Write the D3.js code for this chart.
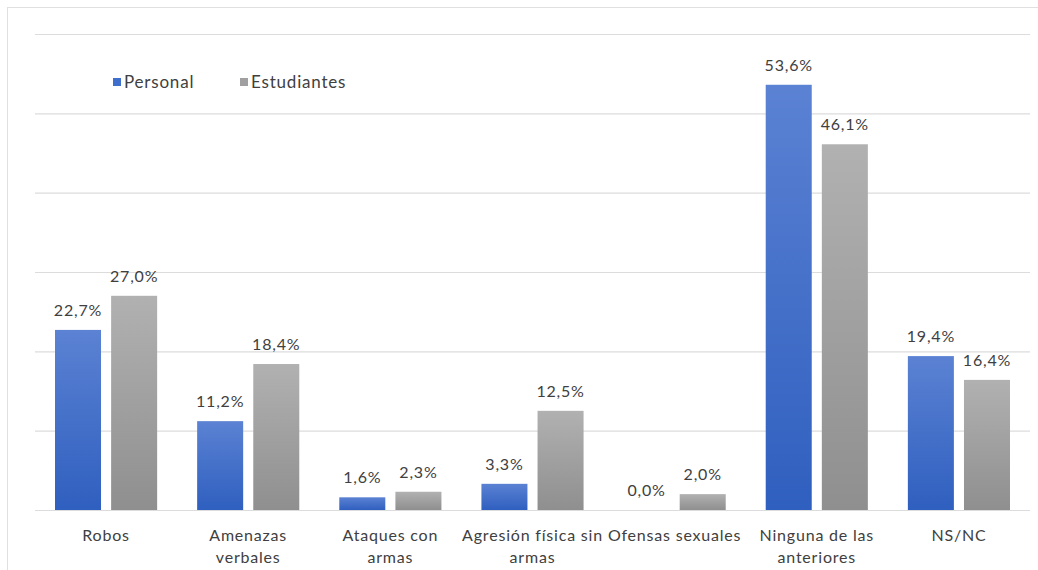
<!DOCTYPE html>
<html>
<head>
<meta charset="utf-8">
<script src="https://cdn.jsdelivr.net/npm/d3@7"></script>
<style>
  body { margin: 0; background: #fff; }
  text { font-family: Lato, "Open Sans", sans-serif; fill: #404040; letter-spacing: 0.8px; }
</style>
</head>
<body>
<div id="vis"></div>
<script>
// data
const categories = ["Robos", "Amenazas verbales", "Ataques con armas", "Agresión física sin armas",
                    "Ofensas sexuales", "Ninguna de las anteriores", "NS/NC"]
const labelLines = [["Robos"], ["Amenazas", "verbales"], ["Ataques con", "armas"], ["Agresión física sin", "armas"],
                    ["Ofensas sexuales"], ["Ninguna de las", "anteriores"], ["NS/NC"]]
const series = ["Personal", "Estudiantes"]
const personal = [22.7, 11.2, 1.6, 3.3, 0.0, 53.6, 19.4]
const estudiantes = [27.0, 18.4, 2.3, 12.5, 2.0, 46.1, 16.4]
const yTicks = [0, 10, 20, 30, 40, 50, 60]

const FRAME_WIDTH = 1038
const FRAME_HEIGHT = 570
const MARGINS = {left: 35, right: 8, top: 34, bottom: 60}
const VIS_WIDTH = FRAME_WIDTH - MARGINS.left - MARGINS.right
const VIS_HEIGHT = FRAME_HEIGHT - MARGINS.top - MARGINS.bottom

const svg = d3.select("#vis").append("svg")
    .attr("width", FRAME_WIDTH)
    .attr("height", FRAME_HEIGHT)

// gradients for bars
const defs = svg.append("defs")
const grads = [["gBlue", "#5b82d3", "#2f5fbf"], ["gGray", "#b1b1b1", "#8f8f8f"]]
grads.forEach(g => {
  const lg = defs.append("linearGradient").attr("id", g[0])
      .attr("x1", 0).attr("y1", 0).attr("x2", 0).attr("y2", 1)
  lg.append("stop").attr("offset", "0%").attr("stop-color", g[1])
  lg.append("stop").attr("offset", "100%").attr("stop-color", g[2])
})
const color = d3.scaleOrdinal().domain(series).range(["url(#gBlue)", "url(#gGray)"])
const swatch = d3.scaleOrdinal().domain(series).range(["#3f6fcc", "#a0a0a0"])

// outer frame
svg.append("rect")
    .attr("x", 7.5).attr("y", 7.5)
    .attr("width", FRAME_WIDTH + 20).attr("height", FRAME_HEIGHT + 20)
    .attr("fill", "none").attr("stroke", "#e0e0e0")

const g = svg.append("g").attr("transform", "translate(" + MARGINS.left + "," + MARGINS.top + ")")

const x = d3.scaleBand().domain(categories).range([0, VIS_WIDTH])
const x1 = d3.scaleBand().domain(series).range([20, x.bandwidth() - 20]).paddingInner(0.18)
const y = d3.scaleLinear().domain([0, 60]).range([VIS_HEIGHT, 0])

// grid lines
g.selectAll(".grid")
  .data(yTicks)
  .enter()
  .append("line")
    .attr("x1", 0).attr("x2", VIS_WIDTH)
    .attr("y1", d => y(d) + 0.5).attr("y2", d => y(d) + 0.5)
    .attr("stroke", "#dcdcdc").attr("stroke-width", 1.2)

// bars
const rows = categories.map((c, i) => ({cat: c, vals: [
  {s: "Personal", v: personal[i]}, {s: "Estudiantes", v: estudiantes[i]}]}))

const groups = g.selectAll(".cat")
  .data(rows)
  .enter()
  .append("g")
    .attr("transform", d => "translate(" + x(d.cat) + ",0)")

groups.selectAll("rect")
  .data(d => d.vals)
  .enter()
  .append("rect")
    .attr("x", d => x1(d.s))
    .attr("y", d => y(d.v))
    .attr("width", x1.bandwidth())
    .attr("height", d => VIS_HEIGHT - y(d.v))
    .attr("fill", d => color(d.s))

// value labels
groups.selectAll(".val")
  .data(d => d.vals)
  .enter()
  .append("text")
    .attr("x", d => x1(d.s) + x1.bandwidth() / 2)
    .attr("y", d => y(d.v) - 14)
    .attr("text-anchor", "middle")
    .attr("font-size", "16px")
    .text(d => d.v.toFixed(1).replace(".", ",") + "%")

// category labels
groups.each(function(d, i) {
  const t = d3.select(this).append("text")
      .attr("text-anchor", "middle")
      .attr("font-size", "16px")
  labelLines[i].forEach((ln, j) => {
    t.append("tspan")
      .attr("x", x.bandwidth() / 2)
      .attr("y", VIS_HEIGHT + 31 + j * 22)
      .text(ln)
  })
})

// legend
const legend = svg.append("g").attr("transform", "translate(113,74)")
const legX = [0, 127]
series.forEach((s, i) => {
  legend.append("rect")
      .attr("x", legX[i]).attr("y", 4)
      .attr("width", 8).attr("height", 8)
      .attr("fill", swatch(s))
  legend.append("text")
      .attr("x", legX[i] + 11).attr("y", 14)
      .attr("font-size", "17px")
      .text(s)
})
</script>
</body>
</html>
